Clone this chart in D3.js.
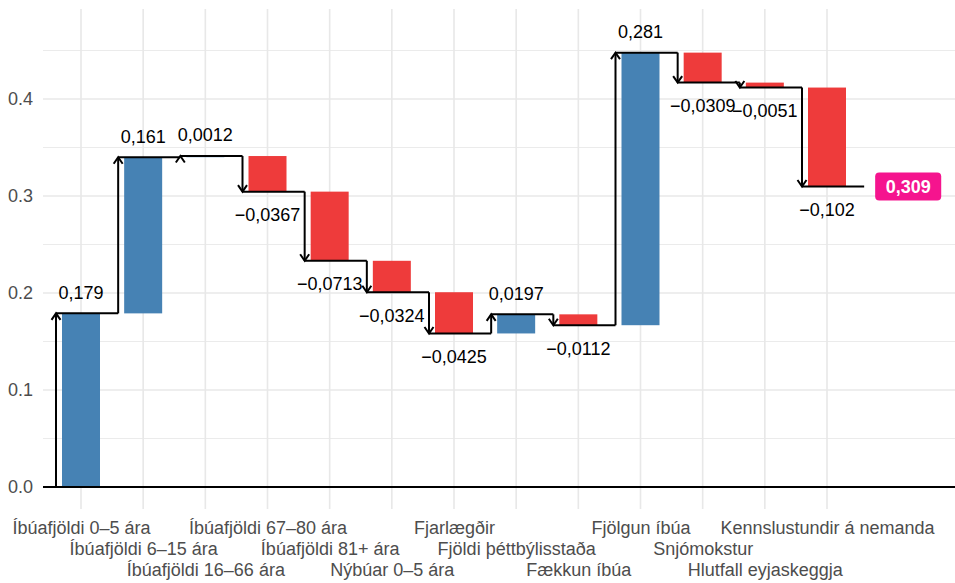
<!DOCTYPE html>
<html>
<head>
<meta charset="utf-8">
<script src="https://cdn.jsdelivr.net/npm/d3@7"></script>
<style>
  body { margin: 0; background: #fff; }
  svg { display: block; font-family: "Liberation Sans", Arial, sans-serif; }
</style>
</head>
<body>
<svg id="chart" width="955" height="583"></svg>
<script>
var categories = [
  "Íbúafjöldi 0–5 ára", "Íbúafjöldi 6–15 ára", "Íbúafjöldi 16–66 ára",
  "Íbúafjöldi 67–80 ára", "Íbúafjöldi 81+ ára", "Nýbúar 0–5 ára",
  "Fjarlægðir", "Fjöldi þéttbýlisstaða", "Fækkun íbúa", "Fjölgun íbúa",
  "Snjómokstur", "Hlutfall eyjaskeggja", "Kennslustundir á nemanda"
];
var values = [0.179, 0.161, 0.0012, -0.0367, -0.0713, -0.0324, -0.0425,
  0.0197, -0.0112, 0.281, -0.0309, -0.0051, -0.102];
var totalValue = 0.309;
var yTicks = [0, 0.1, 0.2, 0.3, 0.4];
var yMinorTicks = [0.05, 0.15, 0.25, 0.35, 0.45];

var blue = "#4682b4", red = "#ee3b3b", pink = "#f5148e";
var panel = { left: 43, right: 955, top: 9, bottom: 509 };

var svg = d3.select("#chart");
var x = d3.scaleLinear().domain([0, 12]).range([81, 827]);
var y = d3.scaleLinear().domain([0, 0.4]).range([487, 99]);

var isl = d3.formatLocale({ decimal: ",", thousands: ".", grouping: [3], currency: ["", ""], minus: "\u2212" });
var fmt = isl.format(".3~g");

// running totals
var steps = [];
var level = 0;
values.forEach(function (v, i) {
  steps.push({ i: i, v: v, start: level, end: level + v });
  level += v;
});

// grid
var grid = svg.append("g");
grid.selectAll(".minor").data(yMinorTicks).enter().append("line")
  .attr("x1", panel.left).attr("x2", panel.right)
  .attr("y1", function (d) { return y(d); }).attr("y2", function (d) { return y(d); })
  .attr("stroke", "#ebebeb").attr("stroke-width", 1.2);
grid.selectAll(".major").data(yTicks).enter().append("line")
  .attr("x1", panel.left).attr("x2", panel.right)
  .attr("y1", function (d) { return y(d); }).attr("y2", function (d) { return y(d); })
  .attr("stroke", "#e8e8e8").attr("stroke-width", 1.6);
grid.selectAll(".vert").data(d3.range(categories.length)).enter().append("line")
  .attr("x1", function (d) { return x(d); }).attr("x2", function (d) { return x(d); })
  .attr("y1", panel.top).attr("y2", panel.bottom)
  .attr("stroke", "#e8e8e8").attr("stroke-width", 1.6);

// y axis
var yAxis = svg.append("g")
  .attr("transform", "translate(" + (panel.left - 10) + ",0)")
  .call(d3.axisLeft(y).tickValues(yTicks).tickSize(0).tickPadding(0).tickFormat(d3.format(".1f")));
yAxis.select(".domain").remove();
yAxis.selectAll("text").attr("font-size", 18).attr("fill", "#4d4d4d")
  .attr("font-family", "Liberation Sans, Arial, sans-serif");

// x axis, staggered in three rows
var xAxis = svg.append("g")
  .attr("transform", "translate(0," + (panel.bottom + 6) + ")")
  .call(d3.axisBottom(x).tickValues(d3.range(categories.length)).tickSize(0).tickPadding(0)
    .tickFormat(function (i) { return categories[i]; }));
xAxis.select(".domain").remove();
xAxis.selectAll("text")
  .attr("font-size", 18).attr("fill", "#4d4d4d")
  .attr("font-family", "Liberation Sans, Arial, sans-serif")
  .attr("dy", null)
  .attr("y", function (d) { return 19 + (d % 3) * 21; });

// bars
var barW = 38;
svg.append("g").selectAll("rect").data(steps).enter().append("rect")
  .attr("x", function (d) { return x(d.i) - barW / 2; })
  .attr("width", barW)
  .attr("y", function (d) { return y(Math.max(d.start, d.end)); })
  .attr("height", function (d) { return Math.max(1, Math.abs(y(d.start) - y(d.end))); })
  .attr("fill", function (d) { return d.v >= 0 ? blue : red; });

// baseline
svg.append("line")
  .attr("x1", panel.left).attr("x2", panel.right)
  .attr("y1", y(0)).attr("y2", y(0))
  .attr("stroke", "#000").attr("stroke-width", 2);

// step arrows
var arrowOff = 25;
var lines = svg.append("g").attr("stroke", "#000").attr("stroke-width", 2)
  .attr("fill", "none").attr("stroke-linecap", "butt");
steps.forEach(function (d) {
  var ax = x(d.i) - arrowOff;
  var y0 = y(d.start), y1 = y(d.end);
  var dir = d.v >= 0 ? 1 : -1;
  lines.append("line").attr("x1", ax).attr("x2", ax).attr("y1", y0).attr("y2", y1);
  lines.append("path")
    .attr("d", ["M", ax - 4.5, y1 + dir * 6.5, "L", ax, y1, "L", ax + 4.5, y1 + dir * 6.5].join(" "));
  lines.append("line")
    .attr("x1", ax).attr("x2", x(d.i + 1) - arrowOff)
    .attr("y1", y1).attr("y2", y1);
});

// value labels
svg.append("g").selectAll("text").data(steps).enter().append("text")
  .attr("x", function (d) { return x(d.i); })
  .attr("y", function (d) { return y(d.end) + (d.v >= 0 ? -21 : 23); })
  .attr("dy", "0.35em")
  .attr("text-anchor", "middle")
  .attr("font-size", 18)
  .attr("fill", "#000")
  .text(function (d) { return fmt(d.v); });

// total box
var last = steps[steps.length - 1];
var boxX = x(last.i + 1) - arrowOff + 11;
var totalG = svg.append("g");
var totalText = totalG.append("text")
  .attr("x", boxX + 10.5).attr("y", y(last.end)).attr("dy", "0.35em")
  .attr("font-size", 18).attr("font-weight", "bold").attr("fill", "#fff")
  .text(isl.format(".3f")(totalValue));
var tw = totalText.node().getComputedTextLength();
totalG.insert("rect", "text")
  .attr("x", boxX).attr("y", y(last.end) - 14)
  .attr("width", tw + 21).attr("height", 28)
  .attr("rx", 4).attr("fill", pink);
</script>
</body>
</html>
